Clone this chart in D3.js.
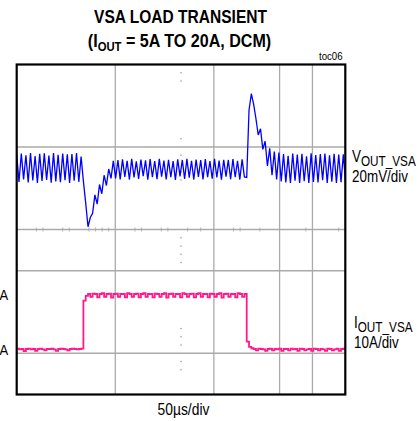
<!DOCTYPE html>
<html>
<head>
<meta charset="utf-8">
<script src="https://cdn.jsdelivr.net/npm/d3@7"></script>
<style>
  html, body { margin: 0; padding: 0; background: #ffffff; }
  svg { display: block; }
  text { font-family: "Liberation Sans", Arial, Helvetica, sans-serif; fill: #000000; }
</style>
</head>
<body>
<svg id="chart" width="418" height="421"></svg>
<script>
// Oscilloscope capture: VSA output voltage (AC-coupled) and load current, 50 µs/div
const sampleStep = 3.5; // µs between stored samples

// Output voltage deviation, mV (20 mV/div)
const voutSamples = [
  6.5, -6.8, 7.0, -5.5, 6.2, -7.0, 7.3, -6.0, 5.8, -7.2,
  6.9, -6.3, 7.1, -5.8, 6.0, -7.1, 7.2, -6.5, 6.4, -6.9,
  7.0, -5.9, 6.6, -7.2, 6.8, -6.2, 7.3, -6.7, 5.5, -6.5,
  -17.0, -28.5, -24.0, -22.0, -13.0, -17.5, -8.0, -12.5, -3.5, -8.5,
  -0.5, -5.0, 3.5, -5.0, 3.8, -5.5, 4.2, -4.3, 3.5, -5.6,
  4.4, -4.6, 3.2, -5.3, 4.1, -4.0, 3.7, -5.7, 4.3, -4.5,
  3.4, -5.4, 4.5, -4.2, 3.6, -5.5, 4.0, -4.4, 3.3, -5.8,
  4.2, -4.1, 3.9, -5.3, 4.4, -4.7, 3.5, -5.6, 4.1, -4.3,
  3.8, -5.5, 4.3, -4.4, 3.4, -5.2, 4.5, -4.6, 3.6, -5.7,
  4.0, -4.2, 3.9, -5.4, 4.3, -4.5, 3.5, -5.6, 4.2, -4.3,
  -4.6, 28.0, 36.0, 31.0, 24.0, 16.0, 19.0, 9.0, 13.0, 1.0,
  9.5, -3.5, 8.0, -5.5, 7.5, -6.5, 6.8, -7.0, 5.9, -7.3,
  7.0, -6.1, 6.5, -7.2, 6.9, -6.4, 5.7, -7.3, 7.1, -6.8,
  6.3, -7.0, 6.8, -5.9, 7.0, -7.3, 6.2, -6.6, 6.9, -7.2,
  6.5, -6.9, 6.7, -7.1
];

// Load current, A (10 A/div)
const ioutSamples = [
  5.1, 4.9, 5.0, 4.4, 5.0, 5.1, 4.9, 5.0, 4.5, 5.0,
  5.1, 4.9, 4.6, 5.0, 5.0, 5.1, 4.9, 4.5, 5.0, 5.1,
  5.0, 4.9, 4.6, 5.0, 5.1, 5.0, 4.9, 5.0, 5.1, 18.2,
  19.5, 20.0, 19.2, 20.1, 20.0, 19.1, 20.0, 20.2, 19.2, 20.0,
  20.1, 19.0, 20.0, 20.1, 19.2, 20.0, 20.0, 19.1, 20.2, 20.0,
  19.2, 20.0, 20.1, 19.1, 20.0, 20.2, 19.2, 20.0, 20.0, 19.1,
  20.1, 20.0, 19.2, 20.0, 20.2, 19.0, 20.0, 20.1, 19.2, 20.0,
  20.0, 19.1, 20.2, 20.0, 19.2, 20.0, 20.1, 19.1, 20.0, 20.2,
  19.2, 20.0, 20.0, 19.1, 20.1, 20.0, 19.2, 20.0, 20.2, 19.0,
  20.0, 20.1, 19.2, 20.0, 20.0, 19.1, 20.2, 20.0, 19.2, 20.0,
  7.0, 5.6, 5.2, 5.0, 4.6, 5.1, 5.0, 4.9, 4.5, 5.0,
  5.1, 4.6, 5.0, 4.9, 5.1, 4.5, 5.0, 5.0, 4.6, 5.1,
  4.9, 5.0, 4.5, 5.1, 5.0, 4.6, 4.9, 5.0, 4.5, 5.1,
  5.0, 4.6, 5.0, 4.9, 4.5, 5.1, 5.0, 4.6, 4.9, 5.1,
  4.5, 5.0, 5.1, 4.6
];

// Screen graticule
const gridTimes = [150, 300, 400, 450];          // µs, solid vertical lines
const gridDivs = [2, 4, 5, 7];                     // divisions from top, solid horizontal lines
const centerTicks = [30, 40, 70, 80, 110, 120, 130, 140, 180, 190, 220, 230, 260, 280, 330, 340, 370, 440, 490];
const centerDots = [0.2, 0.4, 1.8, 2.2, 2.6, 2.8, 4.2, 4.4, 4.6, 4.8, 6.4, 6.6, 6.8, 7.2, 7.4];
const centerTime = 250;
const centerDiv = 4;

const titleLine1 = "VSA LOAD TRANSIENT";
const figureId = "toc06";
const timebaseLabel = "50\u00b5s/div";

const svg = d3.select("#chart");
const frame = { left: 16.7, right: 345.3, top: 64.5, bottom: 394.5 };
const narrow = 0.84; // horizontal squeeze giving a condensed face

const x = d3.scaleLinear().domain([0, 500]).range([frame.left, frame.right]);
const divY = d3.scaleLinear().domain([0, 8]).range([frame.top, frame.bottom]);
const vY = d3.scaleLinear().domain([-80, 80]).range([168 + 165, 168 - 165]);
const iY = d3.scaleLinear().domain([5, 20]).range([349, 294]);

svg.append("defs").append("clipPath").attr("id", "plotClip")
  .append("rect")
  .attr("x", frame.left).attr("y", frame.top)
  .attr("width", frame.right - frame.left).attr("height", frame.bottom - frame.top);

// Graticule
const grid = svg.append("g").attr("stroke", "#aaaaaa").attr("stroke-width", 1.3);
grid.selectAll("line.v").data(gridTimes).join("line")
  .attr("x1", d => x(d)).attr("x2", d => x(d))
  .attr("y1", frame.top).attr("y2", frame.bottom);
grid.selectAll("line.h").data(gridDivs).join("line")
  .attr("x1", frame.left).attr("x2", frame.right)
  .attr("y1", d => divY(d)).attr("y2", d => divY(d));
grid.selectAll("line.t").data(centerTicks).join("line")
  .attr("stroke-width", 0.9)
  .attr("x1", d => x(d)).attr("x2", d => x(d))
  .attr("y1", divY(centerDiv) - 2).attr("y2", divY(centerDiv) + 2);
svg.append("g").attr("fill", "#999999")
  .selectAll("circle").data(centerDots).join("circle")
  .attr("cx", x(centerTime)).attr("cy", d => divY(d)).attr("r", 0.8);

// Traces
const traces = svg.append("g").attr("clip-path", "url(#plotClip)");
const vLine = d3.line().x((d, i) => x(i * sampleStep)).y(d => vY(d));
const iLine = d3.line().curve(d3.curveStepAfter).x((d, i) => x(i * sampleStep)).y(d => iY(d));

traces.append("path").datum(ioutSamples)
  .attr("d", iLine).attr("fill", "none")
  .attr("stroke", "#ff1a8c").attr("stroke-width", 1.8);
traces.append("path").datum(voutSamples)
  .attr("d", vLine).attr("fill", "none")
  .attr("stroke", "#0000ff").attr("stroke-width", 1.3);

// Frame
svg.append("rect")
  .attr("x", frame.left).attr("y", frame.top)
  .attr("width", frame.right - frame.left).attr("height", frame.bottom - frame.top)
  .attr("fill", "none").attr("stroke", "#000000").attr("stroke-width", 2.2);

// Condensed text placed at (px, py)
function narrowText(px, py, size, anchor, squeeze) {
  return svg.append("text")
    .attr("transform", `translate(${px},${py}) scale(${squeeze || narrow},1)`)
    .attr("text-anchor", anchor || "start")
    .attr("font-size", size);
}

// Titles
narrowText(180.5, 23, 18.5, "middle").attr("font-weight", "bold").text(titleLine1);

const t2 = narrowText(179.5, 47, 18.5, "middle", 0.87).attr("font-weight", "bold");
t2.append("tspan").text("(I");
t2.append("tspan").attr("font-size", 13).attr("dy", 4).text("OUT");
t2.append("tspan").attr("dy", -4).text(" = 5A TO 20A, DCM)");

narrowText(319, 59.5, 11.5).text(figureId);

// Channel labels
function channelLabel(xPos, yPos, main, sub, scaleText) {
  const t = narrowText(xPos, yPos, 16);
  t.append("tspan").text(main);
  t.append("tspan").attr("font-size", 14).attr("dy", 4).text(sub);
  narrowText(xPos, yPos + 19.5, 16).text(scaleText);
}
channelLabel(352, 162, "V", "OUT_VSA", "20mV/div");
channelLabel(354, 328, "I", "OUT_VSA", "10A/div");

// Current level marks at the left edge
[20, 5].forEach(level => {
  narrowText(-0.5, iY(level) + 6, 15.5).text("A");
});

narrowText(183.5, 415, 16.5, "middle").text(timebaseLabel);
</script>
</body>
</html>
